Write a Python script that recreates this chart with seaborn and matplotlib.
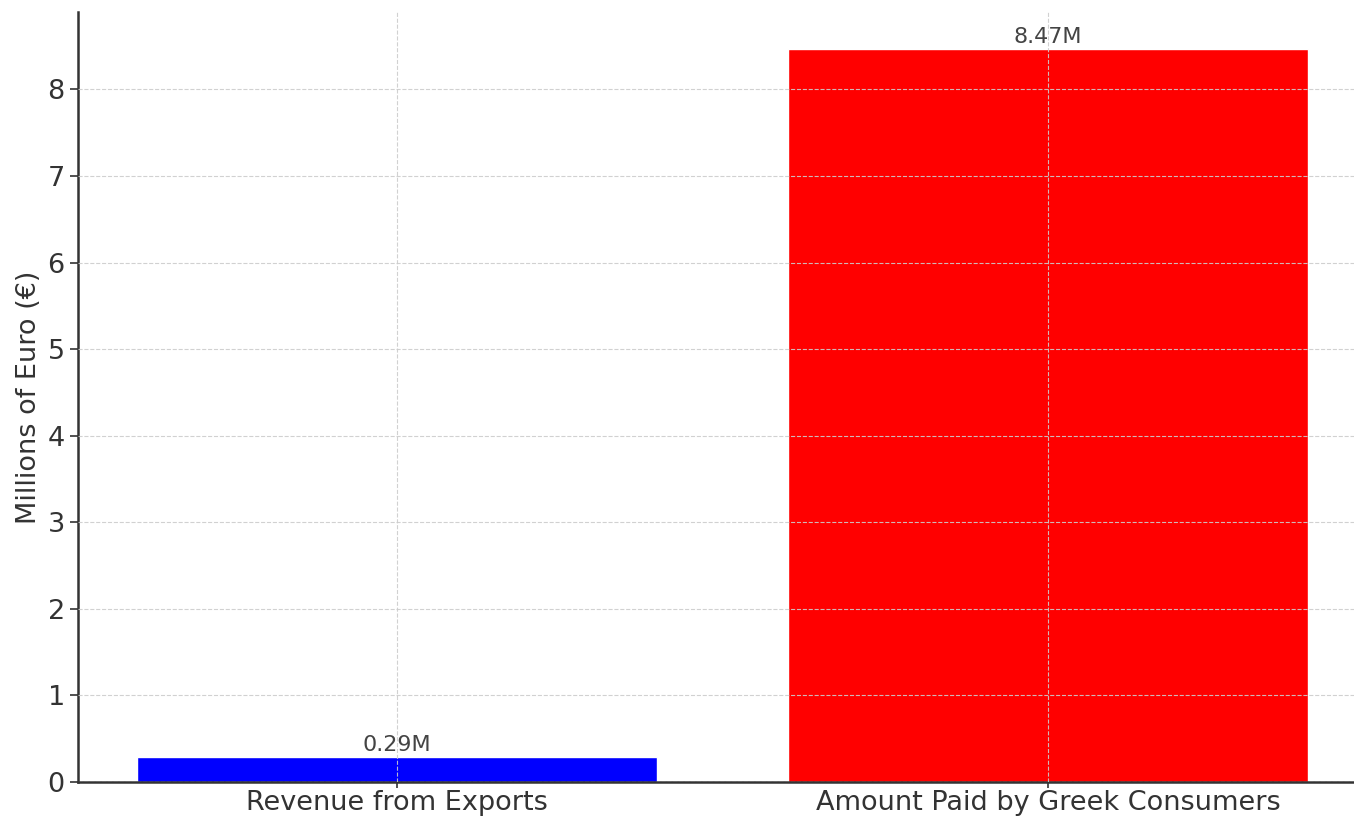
import matplotlib
matplotlib.use("Agg")
import matplotlib.pyplot as plt
import seaborn as sns

categories = ["Revenue from Exports", "Amount Paid by Greek Consumers"]
values = [0.29, 8.47]
bar_colors = ["#0000ff", "#ff0000"]
yticks = [0, 1, 2, 3, 4, 5, 6, 7, 8]

sns.set_style("white")
plt.rcParams["font.family"] = ["DejaVu Sans"]

fig = plt.figure(figsize=(13.54, 8.17), dpi=100)
ax = fig.add_axes([78 / 1354, 35 / 817, 1289 / 1354, 770 / 817])

sns.barplot(x=categories, y=values, hue=categories, palette=bar_colors,
            width=0.8, saturation=1, legend=False, ax=ax)

for i, v in enumerate(values):
    ax.text(i, v + 0.02, f"{v:.2f}M", ha="center", va="bottom",
            fontsize=16, color="#444444")

ax.set_xlim(-0.49, 1.49)
ax.set_ylim(0, max(values) * 1.05)
ax.set_yticks(yticks)
ax.set_ylabel("Millions of Euro (€)", fontsize=19.5, color="#333333")
ax.set_xlabel("")
ax.tick_params(axis="both", labelsize=19.5, colors="#333333", length=6,
               width=1.2, left=True, bottom=True)
ax.tick_params(axis="x", length=4, pad=2)

ax.set_axisbelow(False)
ax.grid(True, linestyle="--", color="#cccccc", linewidth=0.8, alpha=0.9)

sns.despine(ax=ax)
for side in ("left", "bottom"):
    ax.spines[side].set_color("#333333")
    ax.spines[side].set_linewidth(1.8)

fig.savefig("out.png", dpi=100)
